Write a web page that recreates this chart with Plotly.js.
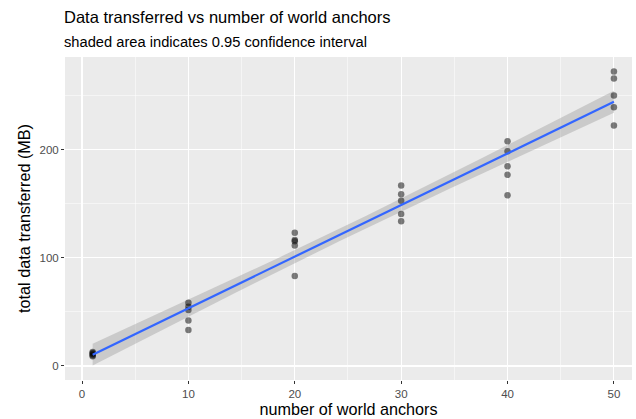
<!DOCTYPE html>
<html>
<head>
<meta charset="utf-8">
<script src="https://cdn.plot.ly/plotly-3.0.1.min.js"></script>
<style>html,body{margin:0;padding:0;background:#fff;}#chart{width:636px;height:419px;}</style>
</head>
<body>
<div id="chart"></div>
<script>
// Data
const anchors = [1,1,1,1,1, 10,10,10,10,10, 20,20,20,20,20, 30,30,30,30,30, 40,40,40,40,40, 50,50,50,50,50];
const transferredMB = [13,12,11,10,9, 58.6,54.9,51.9,42,33.3, 123.4,116.7,115.5,111.4,83.3,
  167,159,153,140.7,134, 208,198.8,184.9,176.9,158, 272.5,266,250.3,239.5,222.5];
const xTicks = [0,10,20,30,40,50];
const yTicks = [0,100,200];
const titleText = "Data transferred vs number of world anchors";
const subtitleText = "shaded area indicates 0.95 confidence interval";
const xTitle = "number of world anchors";
const yTitle = "total data transferred (MB)";

// Linear fit with 95% CI (like geom_smooth(method="lm"))
const n = anchors.length;
const mx = anchors.reduce((a,b)=>a+b,0)/n;
const my = transferredMB.reduce((a,b)=>a+b,0)/n;
let sxx=0, sxy=0;
for (let i=0;i<n;i++){ sxx+=(anchors[i]-mx)**2; sxy+=(anchors[i]-mx)*(transferredMB[i]-my); }
const slope = sxy/sxx, icpt = my - slope*mx;
let sse=0;
for (let i=0;i<n;i++){ sse += (transferredMB[i]-(icpt+slope*anchors[i]))**2; }
const s = Math.sqrt(sse/(n-2));
const tq = 2.048; // t(0.975, 28)
const xmin = Math.min(...anchors), xmax = Math.max(...anchors);
const fx=[], fy=[], lo=[], hi=[];
for (let k=0;k<=80;k++){
  const x = xmin + (xmax-xmin)*k/80;
  const y = icpt + slope*x;
  const se = s*Math.sqrt(1/n + (x-mx)**2/sxx);
  fx.push(x); fy.push(y); lo.push(y-tq*se); hi.push(y+tq*se);
}

const traces = [
  {x: fx.concat(fx.slice().reverse()), y: hi.concat(lo.slice().reverse()), type:'scatter', mode:'lines',
   fill:'toself', fillcolor:'rgba(153,153,153,0.4)', line:{width:0}, hoverinfo:'skip', showlegend:false},
  {x: anchors, y: transferredMB, type:'scatter', mode:'markers',
   marker:{color:'rgba(0,0,0,0.5)', size:6.5, line:{width:0}}, showlegend:false},
  {x: fx, y: fy, type:'scatter', mode:'lines', line:{color:'#3366FF', width:2.2}, showlegend:false}
];

const axisCommon = {
  showline:false, zeroline:false, gridcolor:'#FFFFFF', gridwidth:1.1,
  ticks:'outside', ticklen:3, tickcolor:'#333333', tickwidth:1,
  tickfont:{family:'Liberation Sans, Arial, sans-serif', size:11.5, color:'#4D4D4D'}
};

const layout = {
  width:636, height:419,
  margin:{l:65, r:4, t:57, b:39},
  paper_bgcolor:'#FFFFFF', plot_bgcolor:'#EBEBEB',
  font:{family:'Liberation Sans, Arial, sans-serif', color:'#000'},
  showlegend:false,
  xaxis: Object.assign({}, axisCommon, {range:[-1.6,51.7], tickvals:xTicks, ticktext:xTicks.map(String),
    minor:{showgrid:true, gridcolor:'#FFFFFF', gridwidth:0.5, ticks:'', tickvals:[5,15,25,35,45]},
    title:{text:xTitle, font:{size:16.2, color:'#000'}, standoff:2}}),
  yaxis: Object.assign({}, axisCommon, {range:[-13,286], tickvals:yTicks, ticktext:yTicks.map(String),
    minor:{showgrid:true, gridcolor:'#FFFFFF', gridwidth:0.5, ticks:'', tickvals:[50,150,250]},
    title:{text:yTitle, font:{size:16.2, color:'#000'}, standoff:4}}),
  annotations:[
    {text:titleText, xref:'paper', yref:'paper', x:0, y:1, xanchor:'left', yanchor:'bottom',
     yshift:29, xshift:-3, showarrow:false, font:{size:16.5, color:'#000'}},
    {text:subtitleText, xref:'paper', yref:'paper', x:0, y:1, xanchor:'left', yanchor:'bottom',
     yshift:5, xshift:-3, showarrow:false, font:{size:14.7, color:'#000'}}
  ]
};

Plotly.newPlot('chart', traces, layout, {staticPlot:true, displayModeBar:false});
</script>
</body>
</html>
